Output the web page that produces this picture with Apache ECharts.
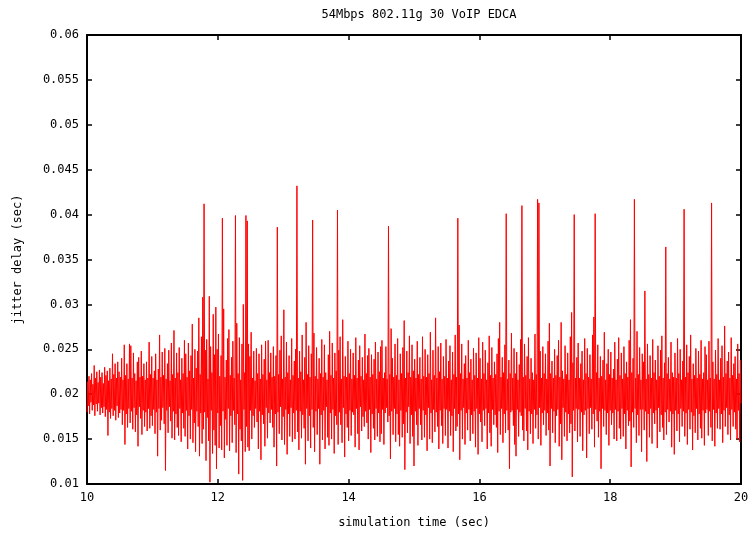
<!DOCTYPE html>
<html><head><meta charset="utf-8">
<script src="https://cdn.jsdelivr.net/npm/echarts@6/dist/echarts.min.js"></script>
<style>html,body{margin:0;padding:0;background:#fff}#c{width:753px;height:535px}</style>
</head><body><div id="c"></div>
<script>
const chartTitle = '54Mbps 802.11g 30 VoIP EDCA';
const xAxisName = 'simulation time (sec)';
const yAxisName = 'jitter delay (sec)';
const xTicks = [10, 12, 14, 16, 18, 20];
const yTicks = [0.01, 0.015, 0.02, 0.025, 0.03, 0.035, 0.04, 0.045, 0.05, 0.055, 0.06];
const startTime = 10;      // seconds, first sample
const sampleStep = 0.01;   // seconds between samples
// jitter delay per sample, in milliseconds
const jitterMs = [
18.0,21.4,18.7,22.0,17.8,21.6,19.1,22.3,18.2,21.1,18.8,23.2,17.6,21.8,18.9,22.5,18.1,21.3,19.0,22.7,
17.7,21.9,18.5,22.4,17.9,21.2,18.6,23.0,17.5,22.1,18.3,22.6,15.4,21.5,18.0,22.9,17.3,21.7,18.4,24.5,
17.6,22.2,18.2,23.4,17.1,21.8,18.7,23.6,17.4,22.5,
17.9,21.9,18.3,24.0,16.6,21.6,18.2,25.5,14.4,22.1,17.8,23.4,16.3,21.7,18.4,25.6,16.8,25.4,18.1,21.8,
16.1,24.6,18.5,22.3,15.8,21.5,17.7,23.6,14.2,24.1,18.6,21.9,17.3,24.8,15.5,22.0,18.2,23.4,16.4,21.6,
18.0,23.6,15.9,21.8,18.4,25.8,16.2,22.2,17.6,24.2,
16.5,21.8,18.3,22.6,15.6,24.5,18.0,21.6,13.1,22.8,18.4,26.6,16.0,21.9,17.1,24.7,18.5,22.1,16.7,25.1,
11.5,21.7,18.2,23.4,15.7,24.9,18.6,21.5,17.0,25.7,15.1,22.2,18.1,27.1,14.9,21.8,17.8,24.6,16.3,22.4,
15.4,25.2,18.4,21.6,14.7,24.0,17.9,22.3,16.2,26.0,
15.3,24.5,18.2,21.9,13.9,25.7,17.6,22.6,15.0,24.3,18.3,27.8,14.6,21.8,16.8,25.0,13.6,22.9,18.1,24.8,
16.4,28.5,13.1,22.2,17.9,26.4,14.5,30.8,16.1,41.2,18.0,24.9,12.6,26.1,17.4,21.7,14.8,30.9,10.2,25.3,
18.2,22.4,13.4,28.9,16.0,24.4,14.3,29.7,11.7,25.0,
17.9,26.7,14.0,22.0,16.5,24.3,13.8,39.6,18.1,29.5,12.9,21.9,17.2,23.8,14.3,26.2,18.4,27.2,13.7,22.1,
17.6,24.1,14.6,25.9,18.2,21.8,16.6,39.9,13.5,27.9,17.8,22.3,11.1,26.3,16.1,21.6,14.8,25.6,10.4,30.0,
18.3,22.4,13.6,39.9,16.4,39.3,14.1,25.6,13.7,24.2,
18.2,26.9,15.0,21.8,17.6,24.8,16.3,21.5,18.4,25.1,16.9,22.3,13.9,24.5,18.1,21.7,12.7,25.5,17.7,22.2,
16.7,23.9,14.2,25.9,18.5,21.6,15.1,26.0,17.9,22.4,16.8,24.6,18.3,21.9,16.3,25.3,14.1,22.0,17.8,24.3,
12.0,38.6,18.0,22.2,15.6,24.9,18.6,26.5,14.9,21.7,
17.5,29.4,14.4,21.9,18.3,25.8,13.3,22.4,17.8,24.3,15.3,21.6,18.5,26.2,14.7,22.1,17.9,23.7,15.0,25.0,
18.2,43.2,15.8,21.8,13.8,24.8,18.1,22.5,15.1,26.6,17.7,21.6,16.2,24.1,12.2,28.0,18.4,22.2,14.8,25.4,
17.6,21.9,14.0,24.5,18.3,39.4,16.3,26.8,13.6,22.0,
18.1,25.2,15.5,21.7,18.4,24.0,12.2,22.3,17.7,26.1,14.9,21.9,18.2,25.5,13.9,22.4,18.6,21.6,15.2,24.4,
14.3,27.0,17.9,22.1,15.0,25.7,18.3,21.8,13.4,24.6,17.6,22.6,16.6,40.5,14.4,24.9,18.0,26.4,16.6,21.7,
14.6,28.3,18.5,22.0,13.0,24.2,17.8,21.9,16.3,25.9,
14.8,22.3,18.2,25.0,15.4,21.7,18.0,24.6,17.7,22.1,14.1,26.3,18.4,21.8,15.6,23.8,13.8,25.4,18.6,22.0,
15.9,24.1,17.5,21.6,16.4,26.7,18.1,22.3,16.8,24.3,15.0,25.1,18.3,21.9,13.5,24.4,17.8,22.2,16.2,23.9,
14.9,25.8,18.4,21.7,15.3,24.7,17.9,22.5,14.7,25.3,
15.6,26.0,18.3,21.8,14.4,22.4,17.9,25.3,18.5,21.7,16.9,38.7,17.6,22.2,12.8,27.3,18.1,24.0,15.5,21.9,
18.4,25.6,14.7,22.1,17.8,26.2,15.5,21.6,14.2,24.5,18.2,22.3,15.2,25.2,16.7,28.2,11.6,21.8,18.0,24.8,
15.7,22.4,18.6,26.5,14.5,21.9,17.7,25.5,15.3,22.6,
12.0,23.9,18.1,21.8,16.6,25.9,14.3,22.2,18.4,24.1,16.6,21.7,14.9,26.4,18.2,22.0,15.2,25.0,17.7,21.9,
13.7,24.4,18.5,22.3,15.0,26.9,17.9,21.6,14.6,24.9,18.3,22.1,15.8,28.5,18.0,21.8,16.4,25.3,13.9,22.5,
18.2,25.7,16.5,21.7,14.5,24.2,18.4,22.0,15.4,26.1,
18.3,21.8,14.0,23.7,18.1,25.4,15.4,21.6,17.6,24.7,13.6,22.2,18.4,26.6,15.9,21.9,16.4,39.6,17.8,27.7,
12.7,22.3,18.2,25.6,15.0,21.7,18.5,23.4,14.4,24.3,17.9,21.8,16.0,26.0,18.3,22.4,14.8,23.9,17.7,21.6,
15.6,25.1,18.1,22.1,14.1,24.6,18.4,21.8,13.3,26.3,
17.8,24.0,16.9,21.7,14.7,25.8,18.2,22.3,16.5,24.9,18.4,21.6,13.9,23.5,17.9,26.5,15.7,22.1,14.2,25.2,
18.3,21.8,16.6,23.6,17.7,22.2,16.3,24.5,13.5,26.2,18.1,28.0,15.5,21.9,18.4,24.1,14.6,22.4,17.8,25.5,
15.7,40.1,18.2,21.7,16.0,23.8,11.7,22.3,18.0,26.8,
18.2,21.8,16.5,25.1,14.4,22.3,13.1,24.7,18.3,21.6,15.3,23.3,18.0,26.1,17.6,41.0,16.0,21.9,14.8,25.6,
18.4,22.1,15.9,24.2,13.8,26.3,18.1,21.7,15.6,24.0,17.8,22.4,14.5,21.6,18.3,26.7,16.2,22.2,17.7,41.7,
15.0,41.3,18.5,24.8,14.3,21.8,17.9,25.3,16.6,22.3,
18.2,24.5,15.4,21.7,17.9,25.9,16.0,27.9,12.0,22.3,18.4,23.7,15.7,21.8,18.1,25.0,14.6,22.1,17.6,24.3,
18.3,26.0,14.2,21.9,16.7,28.0,12.7,22.6,18.5,21.7,15.3,25.4,18.0,22.2,14.8,24.6,17.8,21.6,15.7,26.4,
16.7,29.1,10.8,23.5,18.2,40.0,15.9,21.8,18.4,24.1,
14.7,25.7,18.3,21.8,15.3,23.4,18.0,24.8,13.7,21.6,17.7,26.2,18.2,22.3,12.9,25.1,18.4,21.9,15.6,24.4,
18.5,21.7,16.1,26.6,17.8,28.6,14.1,40.1,18.3,22.4,17.0,25.5,15.2,21.8,18.1,24.2,11.7,22.0,18.4,23.8,
16.4,26.9,18.2,21.6,15.5,23.4,17.9,25.0,14.3,22.2,
18.2,24.7,16.6,21.8,17.9,22.8,15.0,25.8,18.3,21.6,14.8,23.9,18.1,26.3,16.2,22.1,15.0,24.6,18.4,21.7,
15.3,25.3,17.8,22.3,13.9,23.6,18.2,21.9,16.5,26.0,17.0,28.3,11.9,22.4,18.0,24.0,16.3,41.7,18.4,21.8,
14.6,27.0,17.7,22.2,15.4,25.2,18.3,21.6,13.6,24.5,
18.3,23.6,16.0,31.5,18.1,21.7,12.5,25.6,17.8,22.2,15.2,24.3,18.4,21.8,14.5,26.1,17.9,22.4,16.7,23.8,
18.2,21.6,14.0,25.4,18.5,22.0,15.8,24.9,17.7,26.5,16.3,21.8,14.9,23.5,18.0,36.4,15.5,22.3,18.3,24.1,
16.9,21.7,18.1,25.8,14.1,22.4,17.8,21.9,13.3,24.6,
18.2,21.8,15.9,26.2,17.8,22.3,14.7,25.0,18.4,21.6,16.4,23.7,18.1,40.6,15.3,21.9,17.9,25.5,14.4,22.4,
18.3,24.2,16.1,26.6,18.0,21.7,13.8,23.4,17.6,22.1,15.7,25.1,18.4,21.8,14.9,24.8,17.8,22.2,16.2,26.0,
15.1,21.7,18.2,22.4,14.3,25.3,17.9,24.4,18.3,21.6,
15.4,25.9,18.1,21.8,16.3,41.3,14.8,23.6,18.3,21.7,14.2,24.9,17.9,22.2,16.2,26.2,18.4,21.6,16.1,24.0,
17.8,25.4,14.6,21.9,18.2,27.6,16.4,22.3,18.5,23.7,15.5,24.7,17.7,21.8,14.9,26.3,18.3,22.1,16.4,23.4,
18.0,24.2,16.1,21.7,15.0,25.6,18.2,22.3,14.7,23.8,
19.0
];

const seriesData = jitterMs.map((v, i) => [Number((startTime + i * sampleStep).toFixed(2)), v / 1000]);

const font = 'DejaVu Sans Mono';
const fmtY = v => String(Number(v.toFixed(4)));
const tickStyle = { show: true, inside: true, length: 5, lineStyle: { color: '#000', width: 1.5 } };
const lineStyleAxis = { show: true, lineStyle: { color: '#000', width: 2 } };

const chart = echarts.init(document.getElementById('c'), null, { renderer: 'canvas' });
chart.setOption({
  animation: false,
  backgroundColor: '#fff',
  title: {
    text: chartTitle, left: 414, top: 4, textAlign: 'center',
    textStyle: { fontFamily: font, fontSize: 12, fontWeight: 'normal', color: '#000' }
  },
  grid: { left: 87, right: 12, top: 35, bottom: 51, containLabel: false },
  xAxis: [
    {
      type: 'value', min: xTicks[0], max: xTicks[xTicks.length - 1], interval: 2,
      name: xAxisName, nameLocation: 'middle', nameGap: 33,
      nameTextStyle: { fontFamily: font, fontSize: 12, color: '#000' },
      axisLine: lineStyleAxis, axisTick: tickStyle, splitLine: { show: false },
      axisLabel: { fontFamily: font, fontSize: 12, color: '#000', margin: 8 }
    },
    {
      type: 'value', position: 'top', min: xTicks[0], max: xTicks[xTicks.length - 1], interval: 2,
      axisLine: lineStyleAxis, axisTick: tickStyle, splitLine: { show: false },
      axisLabel: { show: false }
    }
  ],
  yAxis: [
    {
      type: 'value', min: yTicks[0], max: yTicks[yTicks.length - 1], interval: 0.005,
      name: yAxisName, nameLocation: 'middle', nameGap: 63, nameRotate: 90,
      nameTextStyle: { fontFamily: font, fontSize: 12, color: '#000' },
      axisLine: lineStyleAxis, axisTick: tickStyle, splitLine: { show: false },
      axisLabel: { fontFamily: font, fontSize: 12, color: '#000', margin: 8, formatter: fmtY }
    },
    {
      type: 'value', position: 'right', min: yTicks[0], max: yTicks[yTicks.length - 1], interval: 0.005,
      axisLine: lineStyleAxis, axisTick: tickStyle, splitLine: { show: false },
      axisLabel: { show: false }
    }
  ],
  series: [{
    type: 'line', xAxisIndex: 0, yAxisIndex: 0,
    data: seriesData, showSymbol: false, symbol: 'none', sampling: false,
    lineStyle: { color: '#ff0000', width: 1 }, z: 1
  }]
});
</script>
</body></html>
